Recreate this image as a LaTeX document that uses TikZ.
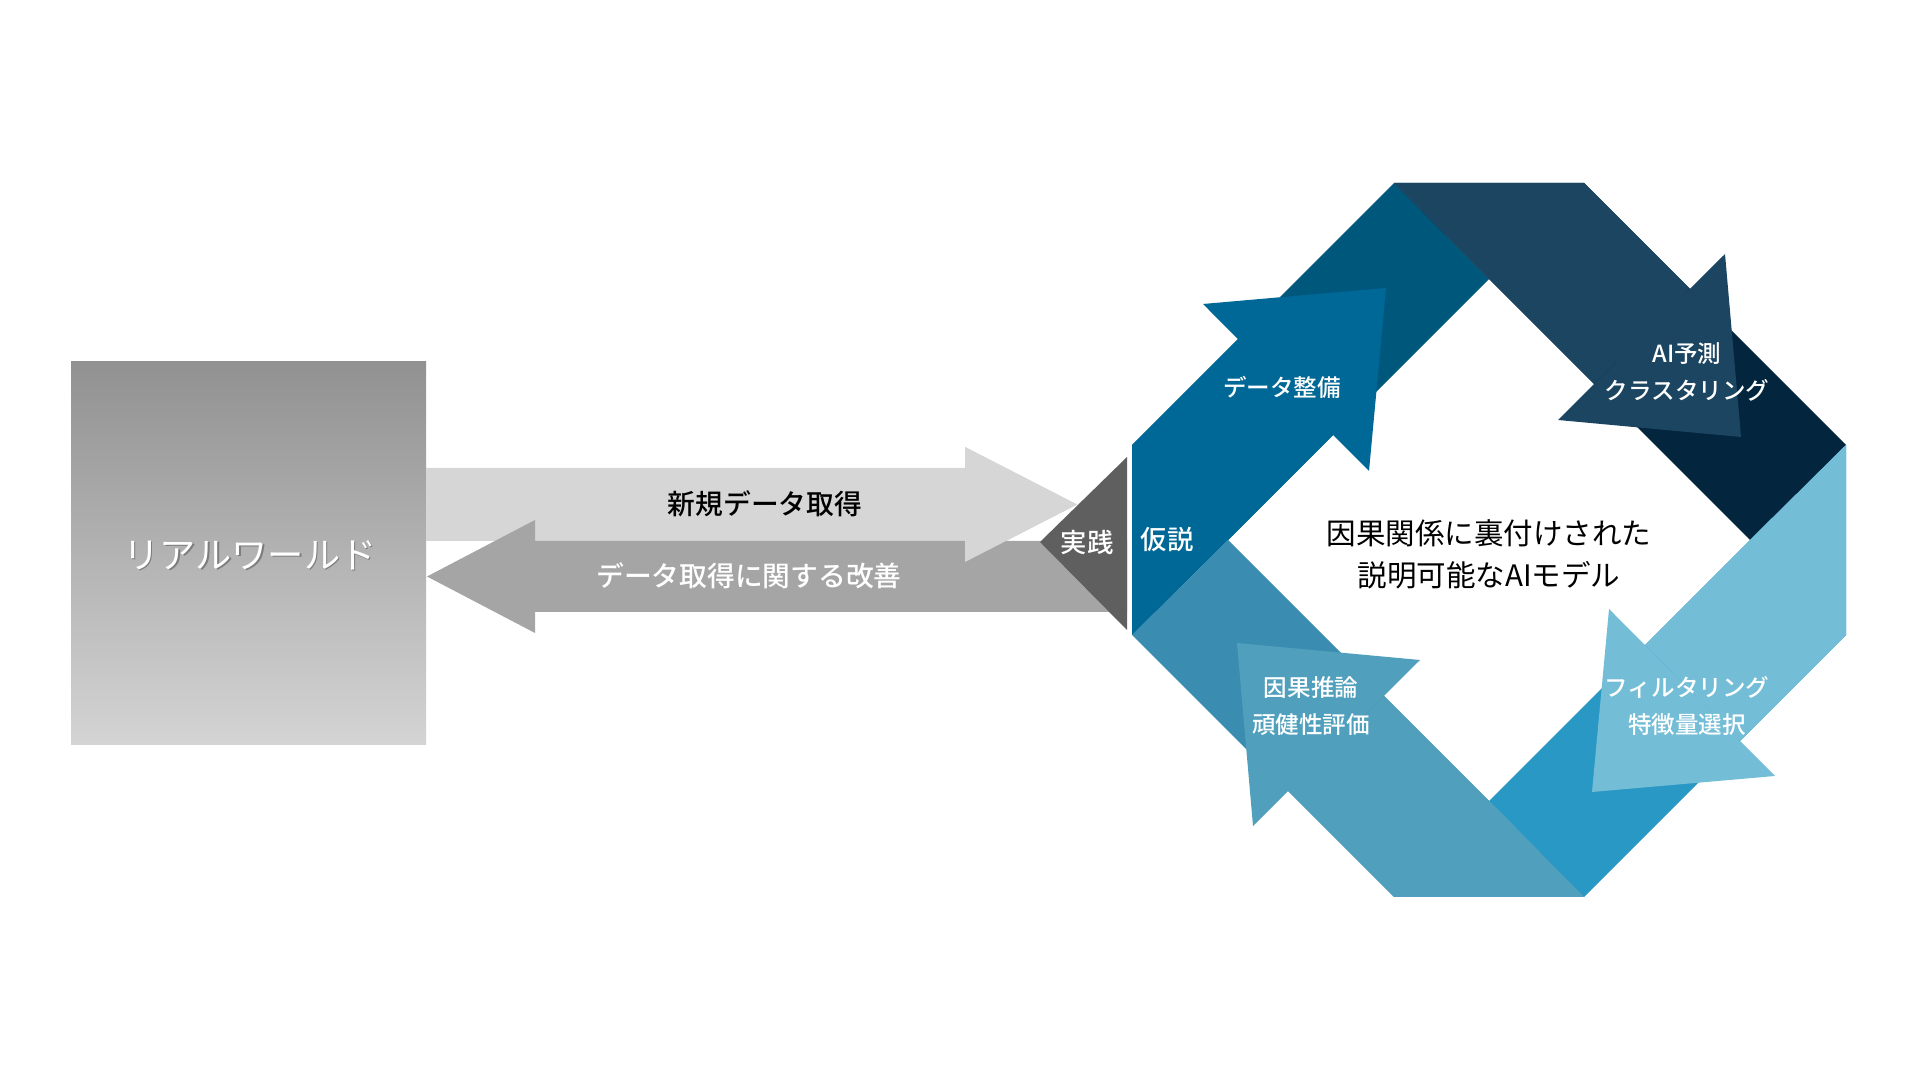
\documentclass[tikz,border=0pt]{standalone}
\usepackage{fontspec}
\usepackage{xcolor}
\usepackage{tikz}
\usetikzlibrary{calc}
\newfontfamily\jpfont{Noto Sans CJK JP}
\newfontfamily\jpmedium{Noto Sans CJK JP Medium}
\definecolor{prepmain}{RGB}{0,104,150}
\definecolor{prepdark}{RGB}{0,87,124}
\definecolor{predmain}{RGB}{28,69,97}
\definecolor{preddark}{RGB}{3,38,62}
\definecolor{filtmain}{RGB}{116,189,215}
\definecolor{filtdark}{RGB}{42,152,196}
\definecolor{causmain}{RGB}{80,160,189}
\definecolor{causdark}{RGB}{58,141,176}
\definecolor{rwtop}{RGB}{145,145,145}
\definecolor{rwbottom}{RGB}{212,212,212}
\definecolor{newgray}{RGB}{214,214,214}
\definecolor{backgray}{RGB}{165,165,165}
\definecolor{practgray}{RGB}{95,95,95}
% one quarter of the cycle, drawn for the upper left and turned for the others
\newcommand{\cyclepart}[2]{%
  \fill[#2] (-3.57,-0.95) -- (-3.57,0.95) -- (-0.95,3.57) -- (0,2.61) -- (-2.61,0) -- cycle;
  \fill[#1] (-3.57,-0.95) -- (-3.57,0.95) -- (-2.51,2.01) -- (-1.56,1.05) -- (-2.61,0) -- cycle;
  \fill[#1] (-2.86,2.36) -- (-1.03,2.52) -- (-1.20,0.69) -- cycle;
}

\begin{document}
\begin{tikzpicture}[
  ringlbl/.style={font=\jpmedium\fontsize{6.7}{10.5}\selectfont,
    text=white, align=center, inner sep=0pt},
  arrlbl/.style={font=\jpmedium\fontsize{7.9}{10}\selectfont, inner sep=0pt},
  sidelbl/.style={font=\jpmedium\fontsize{7.5}{10}\selectfont,
    text=white, inner sep=0pt},
  centre/.style={font=\jpfont\fontsize{8.4}{12}\selectfont, align=center,
    inner sep=0pt},
]
  \useasboundingbox (0,0) rectangle (19.2,10.8);

  % real world
  \shade[top color=rwtop, bottom color=rwbottom] (0.71,3.35) rectangle (4.26,7.18);
  \node[font=\jpfont\fontsize{10.3}{12}\selectfont, text=black, opacity=0.3,
    inner sep=0pt] (rwshadow) at (2.515,5.235) {リアルワールド};
  \node[font=\jpfont\fontsize{10.3}{12}\selectfont, text=white, inner sep=0pt]
    (rw) at (2.50,5.25) {リアルワールド};

  % two arrows between world and cycle
  \fill[newgray] (4.26,5.39) -- (9.65,5.39) -- (9.65,5.18) -- (10.77,5.755)
    -- (9.65,6.33) -- (9.65,6.12) -- (4.26,6.12) -- cycle;
  \fill[backgray] (11.27,4.68) -- (5.35,4.68) -- (5.35,4.47) -- (4.27,5.035)
    -- (5.35,5.60) -- (5.35,5.39) -- (11.27,5.39) -- cycle;
  \fill[newgray] (9.65,5.18) -- (10.77,5.755) -- (9.65,6.33) -- cycle;
  \fill[practgray] (11.27,6.23) -- (10.40,5.38) -- (11.27,4.50) -- cycle;

  \node[arrlbl, text=black] (newdata) at (7.65,5.76) {新規データ取得};
  \node[arrlbl, text=white] (improve) at (7.49,5.04) {データ取得に関する改善};
  \node[sidelbl] (practice) at (10.87,5.38) {実践};

  % cycle
  \begin{scope}[shift={(14.89,5.40)}]
    \begin{scope}[rotate=0]\cyclepart{prepmain}{prepdark}\end{scope}
    \begin{scope}[rotate=-90]\cyclepart{predmain}{preddark}\end{scope}
    \begin{scope}[rotate=-180]\cyclepart{filtmain}{filtdark}\end{scope}
    \begin{scope}[rotate=-270]\cyclepart{causmain}{causdark}\end{scope}
  \end{scope}

  \node[sidelbl] (hypo) at (11.67,5.40) {仮説};
  \node[ringlbl] (prep) at (12.82,6.93) {データ整備};
  \node[ringlbl] (pred) at (16.87,7.08) {AI予測\\クラスタリング};
  \node[ringlbl] (filt) at (16.87,3.74) {フィルタリング\\特徴量選択};
  \node[ringlbl] (caus) at (13.11,3.74) {因果推論\\頑健性評価};
  \node[centre] (model) at (14.89,5.26) {因果関係に裏付けされた\\説明可能なAIモデル};
\end{tikzpicture}
\end{document}
